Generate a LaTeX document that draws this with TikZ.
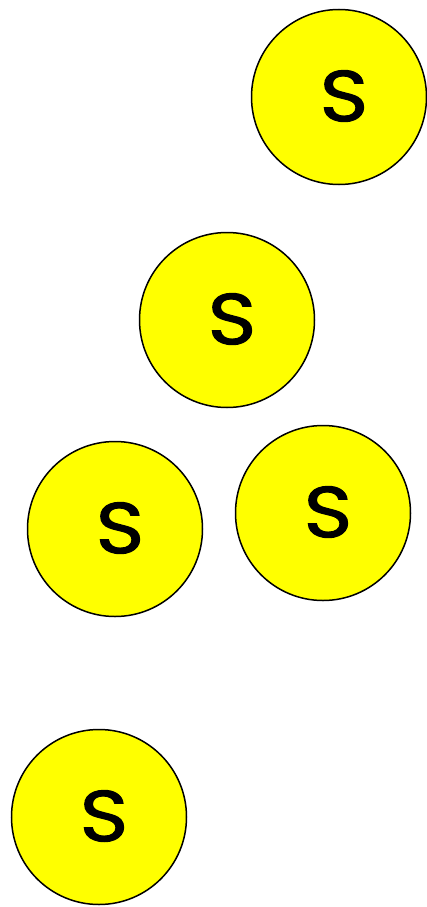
\documentclass[tikz,border=0pt]{standalone}
\usepackage{fontspec}
\newfontfamily\sfont[FakeBold=1.6, FakeStretch=1.15]{Poppins}
\usetikzlibrary{positioning}
\definecolor{sgiallo}{RGB}{255,255,0}

\begin{document}
\begin{tikzpicture}[
    x=1pt, y=-1pt,
    sball/.style={circle, draw=black, line width=1.5pt, fill=sgiallo,
        minimum size=175pt, inner sep=0pt},
    slabel/.style={font=\sfont\fontsize{72}{72}\selectfont, inner sep=0pt}
]
    \useasboundingbox (0,0) rectangle (427,907);

    % Cerchi
    \node[sball] (s1) at (339,97) {};
    \node[sball] (s2) at (227,320) {};
    \node[sball] (s3) at (115,529) {};
    \node[sball] (s4) at (323,513) {};
    \node[sball] (s5) at (99,817) {};

    % Etichette
    \foreach \n in {1,...,5}
        \node[slabel] (l\n) at ([xshift=5pt,yshift=1pt]s\n.center) {S};

\end{tikzpicture}
\end{document}
